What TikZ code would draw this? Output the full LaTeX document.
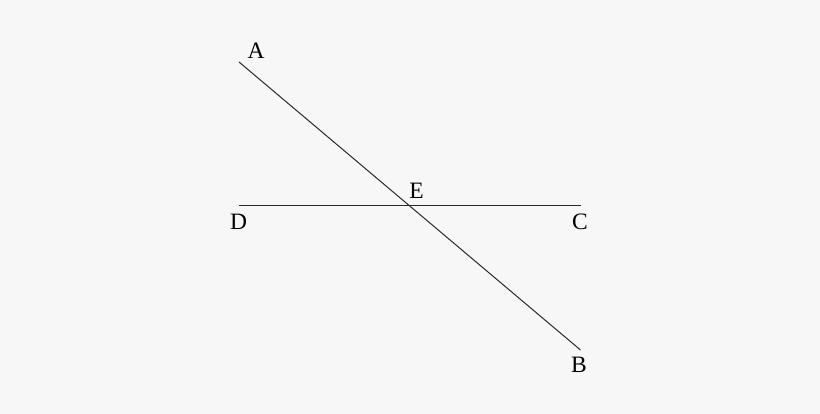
\documentclass[tikz,border=0pt]{standalone}
\usepackage{fontspec}
\setmainfont{Liberation Serif}
\usetikzlibrary{positioning}
\definecolor{bggray}{HTML}{F7F7F7}
\definecolor{linegray}{HTML}{2A2A2A}

\begin{document}
\begin{tikzpicture}[x=1pt, y=-1pt, line width=1pt,
	pt/.style ={ inner sep=0pt, text=black, font=\fontsize{23.5}{28}\selectfont }]
	\fill[bggray] (0,0) rectangle (820,414);
	\useasboundingbox (0,0) rectangle (820,414);
	\coordinate (a) at (239, 62);
	\coordinate (b) at (580.5, 350);
	\coordinate (c) at (580.5, 206);
	\coordinate (d) at (238.5, 206);
	\coordinate (e) at (409, 206);
	\draw[linegray] (a) -- (b);
	\draw[linegray] (d) -- (c);
	\node[pt] (A) at (256, 50.5) {A};
	\node[pt] (B) at (579, 365) {B};
	\node[pt] (C) at (580, 221.5) {C};
	\node[pt] (D) at (238.5, 221.5) {D};
	\node[pt] (E) at (416.5, 190.5) {E};
\end{tikzpicture}
\end{document}
